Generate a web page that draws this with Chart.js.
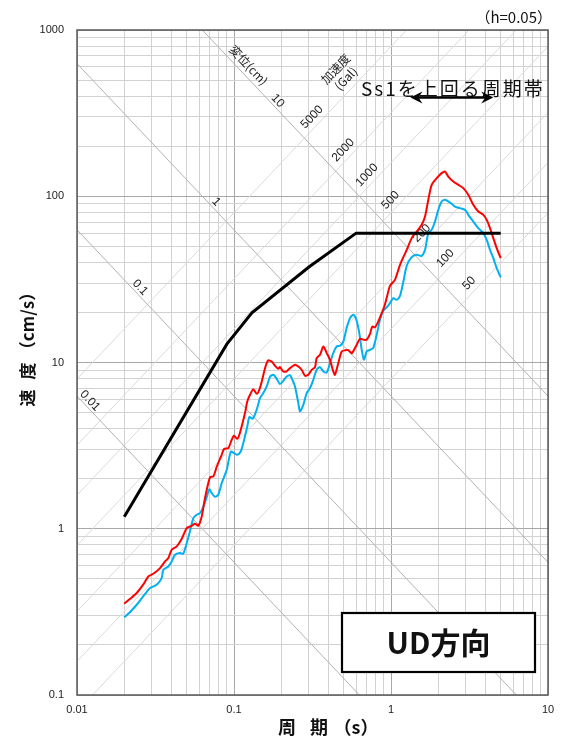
<!DOCTYPE html>
<html>
<head>
<meta charset="utf-8">
<script src="https://cdn.jsdelivr.net/npm/chart.js@4.4.1/dist/chart.umd.min.js"></script>
<style>
  html, body { margin: 0; padding: 0; background: #fff; }
  canvas { display: block; }
</style>
</head>
<body>
<canvas id="spec" width="563" height="738"></canvas>
<script>
// ---- axis ticks ----
const xTickValues = [0.01, 0.1, 1, 10];
const xTickLabels = ['0.01', '0.1', '1', '10'];
const yTickValues = [0.1, 1, 10, 100, 1000];
const yTickLabels = ['0.1', '1', '10', '100', '1000'];

// ---- tripartite guide lines ----
const dispLines = [0.01, 0.1, 1, 10];                       // displacement (cm)
const dispLabels = ['0.01', '0.1', '1', '10'];
const accLines = [50, 100, 200, 500, 1000, 2000, 5000];     // acceleration (Gal)
const accLabels = ['50', '100', '200', '500', '1000', '2000', '5000'];

// ---- design spectrum Ss1 (period s, velocity cm/s) ----
const ss1Period = [0.02, 0.09, 0.13, 0.3, 0.6, 5.0];
const ss1Vel = [1.18, 12.9, 19.9, 37.5, 60, 60];

// ---- observed spectrum, red ----
const redPeriod = [0.02, 0.0218, 0.0240, 0.0264, 0.0285, 0.0306, 0.0338, 0.0364, 0.0382, 0.0401,
  0.0432, 0.0464, 0.0500, 0.0538, 0.0564, 0.0592, 0.0623, 0.0654, 0.0703, 0.0738,
  0.0776, 0.0835, 0.0864, 0.0920, 0.0967, 0.100, 0.105, 0.109, 0.1175, 0.1215,
  0.1265, 0.1327, 0.1395, 0.1449, 0.1501, 0.1576, 0.1647, 0.1738, 0.1824, 0.1915,
  0.1963, 0.2061, 0.2166, 0.2274, 0.2446, 0.2568, 0.2699, 0.2833, 0.2973, 0.3125,
  0.3280, 0.3363, 0.3531, 0.3706, 0.3894, 0.4088, 0.4290, 0.4398, 0.4617, 0.4853,
  0.5094, 0.5346, 0.5619, 0.6046, 0.6346, 0.6730, 0.7001, 0.7349, 0.7601, 0.7908,
  0.8301, 0.8726, 0.9064, 0.9389, 0.9854, 1.060, 1.141, 1.259, 1.355, 1.458,
  1.569, 1.647, 1.728, 1.816, 1.955, 2.103, 2.208, 2.317, 2.493, 2.683,
  2.887, 3.107, 3.344, 3.598, 3.872, 4.070, 4.272, 4.484, 4.711, 5.0];
const redVel = [0.354, 0.379, 0.411, 0.461, 0.517, 0.536, 0.580, 0.636, 0.667, 0.748,
  0.783, 0.867, 1.010, 1.042, 1.072, 1.042, 1.186, 1.536, 2.040, 2.063,
  2.360, 2.786, 3.015, 3.057, 3.429, 3.625, 3.477, 3.763, 4.963, 5.830,
  6.394, 6.901, 6.483, 6.854, 7.655, 9.229, 10.28, 10.14, 9.555, 9.165,
  9.383, 8.830, 8.855, 9.254, 9.687, 9.461, 9.040, 8.318, 8.433, 9.040,
  9.383, 10.63, 11.13, 12.49, 11.39, 10.38, 8.830, 8.433, 9.917, 11.65,
  11.84, 11.87, 11.36, 12.78, 13.88, 13.69, 13.69, 14.88, 16.46, 16.28,
  17.64, 19.82, 21.71, 24.49, 28.92, 31.43, 38.68, 47.61, 55.98, 61.33,
  67.30, 75.51, 95.14, 117.1, 128.5, 137.7, 140.8, 131.4, 122.6, 117.1,
  111.9, 102.0, 88.80, 80.91, 77.30, 72.13, 64.30, 55.98, 48.74, 42.4];

// ---- observed spectrum, blue ----
const bluePeriod = [0.02, 0.0218, 0.0240, 0.0264, 0.0292, 0.0322, 0.0346, 0.0355, 0.0382, 0.0401,
  0.0421, 0.0453, 0.0475, 0.0500, 0.0524, 0.0551, 0.0579, 0.0607, 0.0632, 0.0670,
  0.0696, 0.0721, 0.0757, 0.0794, 0.0835, 0.0899, 0.0953, 0.100, 0.105, 0.1103,
  0.1146, 0.1215, 0.1252, 0.1316, 0.1395, 0.1464, 0.1537, 0.1616, 0.1696, 0.1780,
  0.1871, 0.1963, 0.2061, 0.2166, 0.2274, 0.2331, 0.2446, 0.2568, 0.2633, 0.2763,
  0.2905, 0.3048, 0.3200, 0.3363, 0.3531, 0.3706, 0.3894, 0.4088, 0.4290, 0.4510,
  0.4733, 0.4968, 0.5221, 0.5481, 0.5753, 0.6046, 0.6282, 0.6508, 0.6730, 0.7001,
  0.7349, 0.7714, 0.8108, 0.8510, 0.8933, 0.9389, 0.9854, 1.034, 1.087, 1.141,
  1.198, 1.259, 1.355, 1.458, 1.569, 1.647, 1.728, 1.816, 1.907, 2.001,
  2.103, 2.208, 2.376, 2.556, 2.751, 2.960, 3.107, 3.344, 3.598, 3.872,
  4.070, 4.272, 4.484, 4.711, 5.0];
const blueVel = [0.293, 0.316, 0.349, 0.392, 0.440, 0.461, 0.505, 0.567, 0.593, 0.636,
  0.698, 0.714, 0.708, 0.820, 0.963, 1.160, 1.214, 1.243, 1.332, 1.547,
  1.728, 1.640, 1.557, 1.601, 1.883, 2.264, 2.904, 2.852, 2.786, 2.916,
  3.276, 4.123, 4.695, 4.586, 5.195, 6.107, 6.546, 7.173, 8.204, 8.433,
  7.980, 7.415, 7.762, 8.238, 8.375, 8.058, 7.173, 5.700, 5.075, 5.567,
  6.546, 7.017, 7.870, 9.040, 9.383, 8.830, 8.708, 9.917, 11.39, 12.49,
  12.60, 13.37, 16.17, 18.49, 19.36, 17.81, 15.02, 11.92, 10.38, 11.68,
  11.92, 12.26, 14.68, 18.06, 20.46, 21.47, 22.76, 24.39, 23.82, 25.18,
  30.57, 38.15, 43.03, 44.42, 43.81, 47.61, 59.99, 62.81, 70.46, 82.83,
  92.92, 95.14, 91.65, 86.74, 84.82, 82.83, 77.30, 70.46, 64.30, 59.99,
  54.68, 47.61, 42.44, 36.96, 32.5];

// period band where the observed spectrum exceeds Ss1
const exceedBand = [1.33, 4.48];

// ---- helpers ----
const TWO_PI = 2 * Math.PI;
const pts = (xs, ys) => xs.map((v, i) => ({ x: v, y: ys[i] }));
function logGrid(lo, hi) {           // 1..9 x 10^e lines between decades
  const out = [];
  for (let e = lo; e < hi; e++) for (let k = 1; k < 10; k++) out.push(Number(k + 'e' + e));
  out.push(Number('1e' + hi));
  return out;
}
const isDecade = v => Math.abs(Math.log10(v) - Math.round(Math.log10(v))) < 1e-6;
function labelFor(values, labels, v) {
  const i = values.findIndex(t => Math.abs(Math.log10(t) - Math.log10(v)) < 1e-6);
  return i >= 0 ? labels[i] : '';
}

const NUM_FONT = '"Liberation Sans", Arial, sans-serif';
const JP_FONT = '"Noto Sans CJK JP", "Noto Sans", sans-serif';

// where the numeric labels of the guide lines sit
const dispLabelPeriods = [0.0121, 0.0252, 0.077, 0.19];
const accLabelGuideDisp = 12.5;      // acc labels sit where each line meets this displacement

function guideAngle(x, y) {
  const x1 = x.getPixelForValue(0.1), y1 = y.getPixelForValue(TWO_PI / 0.1);
  const x2 = x.getPixelForValue(1), y2 = y.getPixelForValue(TWO_PI / 1);
  return Math.atan2(y2 - y1, x2 - x1);
}
function rotText(ctx, text, px, py, ang) {
  ctx.save();
  ctx.translate(px, py);
  ctx.rotate(ang);
  ctx.fillText(text, 0, 0);
  ctx.restore();
}

// diagonal displacement / acceleration grid with its labels
const tripartite = {
  id: 'tripartite',
  beforeDatasetsDraw(chart) {
    const { ctx, chartArea: a, scales: { x, y } } = chart;
    const t0 = 0.01, t1 = 10;
    ctx.save();
    ctx.beginPath();
    ctx.rect(a.left, a.top, a.right - a.left, a.bottom - a.top);
    ctx.clip();
    ctx.lineWidth = 1;
    ctx.strokeStyle = '#dadada';
    accLines.forEach(A => {
      ctx.beginPath();
      ctx.moveTo(x.getPixelForValue(t0), y.getPixelForValue(A * t0 / TWO_PI));
      ctx.lineTo(x.getPixelForValue(t1), y.getPixelForValue(A * t1 / TWO_PI));
      ctx.stroke();
    });
    ctx.strokeStyle = '#b2b2b2';
    dispLines.forEach(D => {
      ctx.beginPath();
      ctx.moveTo(x.getPixelForValue(t0), y.getPixelForValue(TWO_PI * D / t0));
      ctx.lineTo(x.getPixelForValue(t1), y.getPixelForValue(TWO_PI * D / t1));
      ctx.stroke();
    });

    const ang = guideAngle(x, y);
    ctx.fillStyle = '#222';
    ctx.textAlign = 'center';
    ctx.textBaseline = 'middle';
    ctx.font = '12px ' + NUM_FONT;
    dispLines.forEach((D, i) => {
      const T = dispLabelPeriods[i];
      rotText(ctx, dispLabels[i], x.getPixelForValue(T), y.getPixelForValue(TWO_PI * D / T) - 9, ang);
    });
    accLines.forEach((A, i) => {
      const T = TWO_PI * Math.sqrt(accLabelGuideDisp / A);
      rotText(ctx, accLabels[i], x.getPixelForValue(T), y.getPixelForValue(A * T / TWO_PI) - 13, -ang);
    });
    ctx.font = '12px ' + JP_FONT;
    rotText(ctx, '変位(cm)', x.getPixelForValue(0.124), y.getPixelForValue(TWO_PI * 10 / 0.124) - 14, ang);
    ctx.save();
    ctx.translate(340, 73);
    ctx.rotate(-ang);
    ctx.fillText('加速度', 0, -6);
    ctx.fillText('(Gal)', 0, 8);
    ctx.restore();
    ctx.restore();
  },
  afterDatasetsDraw(chart) {
    const { ctx, chartArea: a, scales: { x } } = chart;
    ctx.save();
    // plot frame
    ctx.strokeStyle = '#5a5a5a';
    ctx.lineWidth = 1.5;
    ctx.strokeRect(a.left, a.top, a.right - a.left, a.bottom - a.top);

    // damping note
    ctx.fillStyle = '#111';
    ctx.font = '15px ' + JP_FONT;
    ctx.textAlign = 'right';
    ctx.textBaseline = 'middle';
    ctx.fillText('（h=0.05）', 552, 17);

    // exceedance band note and arrow
    ctx.font = '19px ' + JP_FONT;
    ctx.textAlign = 'left';
    ctx.letterSpacing = '2px';
    ctx.fillText('Ss1を上回る周期帯', 361, 89);
    ctx.letterSpacing = '0px';
    const ay = a.top + 67.5;
    const xl = x.getPixelForValue(exceedBand[0]);
    const xr = x.getPixelForValue(exceedBand[1]);
    ctx.strokeStyle = '#000';
    ctx.fillStyle = '#000';
    ctx.lineWidth = 2.4;
    ctx.beginPath();
    ctx.moveTo(xl + 6, ay);
    ctx.lineTo(xr - 6, ay);
    ctx.stroke();
    [[xl, -1], [xr, 1]].forEach(([tx, d]) => {
      ctx.beginPath();
      ctx.moveTo(tx, ay);
      ctx.lineTo(tx - d * 12, ay - 6);
      ctx.lineTo(tx - d * 8, ay);
      ctx.lineTo(tx - d * 12, ay + 6);
      ctx.closePath();
      ctx.fill();
    });

    // direction box
    ctx.fillStyle = '#fff';
    ctx.fillRect(342, 613, 193, 59);
    ctx.strokeStyle = '#000';
    ctx.lineWidth = 2.2;
    ctx.strokeRect(342, 613, 193, 59);
    ctx.fillStyle = '#111';
    ctx.font = 'bold 30px ' + JP_FONT;
    ctx.textAlign = 'center';
    ctx.textBaseline = 'middle';
    ctx.fillText('UD方向', 438.5, 643);

    // axis titles
    ctx.font = 'bold 18px ' + JP_FONT;
    ctx.fillText('周', 287, 727);
    ctx.fillText('期', 319, 727);
    ctx.fillText('（s）', 356, 727);
    ctx.save();
    ctx.translate(28, 0);
    ctx.rotate(-Math.PI / 2);
    ctx.font = 'bold 17px ' + JP_FONT;
    ctx.fillText('速', -398, 0);
    ctx.fillText('度', -371, 0);
    ctx.fillText('（cm/s）', -321, 0);
    ctx.restore();
    ctx.restore();
  }
};

const gridColor = c => (c.tick && isDecade(c.tick.value) ? '#a8a8a8' : '#d2d2d2');

new Chart(document.getElementById('spec'), {
  type: 'scatter',
  data: {
    datasets: [
      { label: 'Ss1', data: pts(ss1Period, ss1Vel), showLine: true, borderColor: '#000',
        borderWidth: 3, pointRadius: 0, tension: 0 },
      { label: 'red', data: pts(redPeriod, redVel), showLine: true, borderColor: '#ff0000',
        borderWidth: 2, pointRadius: 0, tension: 0.25 },
      { label: 'blue', data: pts(bluePeriod, blueVel), showLine: true, borderColor: '#00b0f0',
        borderWidth: 2, pointRadius: 0, tension: 0.25 }
    ]
  },
  options: {
    responsive: false,
    animation: false,
    events: [],
    layout: { padding: { top: 30, right: 15, left: 0, bottom: 0 } },
    plugins: { legend: { display: false }, tooltip: { enabled: false } },
    scales: {
      x: {
        type: 'logarithmic', min: 0.01, max: 10,
        afterBuildTicks: s => { s.ticks = logGrid(-2, 1).map(v => ({ value: v })); },
        afterFit: s => { s.height = 43; },
        ticks: {
          autoSkip: false, maxRotation: 0, padding: 8, color: '#222',
          font: { family: 'Liberation Sans', size: 11 },
          callback: v => labelFor(xTickValues, xTickLabels, v)
        },
        grid: { color: gridColor, lineWidth: 1, drawTicks: false },
        border: { display: false }
      },
      y: {
        type: 'logarithmic', min: 0.1, max: 1000,
        afterBuildTicks: s => { s.ticks = logGrid(-1, 3).map(v => ({ value: v })); },
        afterFit: s => { s.width = 77; },
        ticks: {
          autoSkip: false, padding: 13, color: '#222',
          font: { family: 'Liberation Sans', size: 11 },
          callback: v => labelFor(yTickValues, yTickLabels, v)
        },
        grid: { color: gridColor, lineWidth: 1, drawTicks: false },
        border: { display: false }
      }
    }
  },
  plugins: [tripartite]
});
</script>
</body>
</html>
